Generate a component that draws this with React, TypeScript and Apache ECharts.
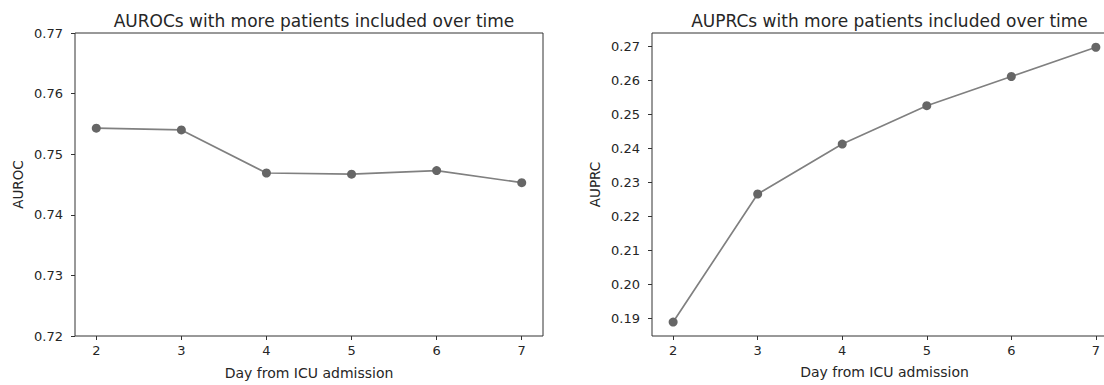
import React, { useEffect, useRef } from "react";
import * as echarts from "echarts";

const days = [2, 3, 4, 5, 6, 7];
const aurocValues = [0.7543, 0.754, 0.7469, 0.7467, 0.7473, 0.7453];
const auprcValues = [0.1889, 0.2266, 0.2413, 0.2526, 0.2612, 0.2698];
const aurocTicks = [0.72, 0.73, 0.74, 0.75, 0.76, 0.77];
const auprcTicks = [0.19, 0.2, 0.21, 0.22, 0.23, 0.24, 0.25, 0.26, 0.27];
const titles = [
  "AUROCs with more patients included over time",
  "AUPRCs with more patients included over time",
];
const xName = "Day from ICU admission";
const yNames = ["AUROC", "AUPRC"];

const FONT = "DejaVu Sans";
const TXT = "#262626";
const FS = 13;

export default function App() {
  const ref = useRef<HTMLDivElement>(null);
  useEffect(() => {
    if (!ref.current) return;
    const chart = echarts.init(ref.current, null, { renderer: "svg" });
    const grids = [
      { left: 75, top: 33, width: 468, height: 306 },
      { left: 652, top: 33, width: 465, height: 303 },
    ];
    const xAxisBase = (gi: number) => ({
      type: "value" as const,
      gridIndex: gi,
      min: 1.75,
      max: 7.25,
      name: xName,
      nameLocation: "middle" as const,
      nameGap: gi === 0 ? 30 : 29,
      nameTextStyle: { fontFamily: FONT, fontSize: 14, color: TXT },
      axisLine: { show: false },
      axisTick: { show: true, length: 4, customValues: days, lineStyle: { color: "#333" } },
      axisLabel: {
        customValues: days,
        margin: 8,
        fontFamily: FONT,
        fontSize: FS,
        color: TXT,
        formatter: (v: number) => String(v),
      },
      splitLine: { show: false },
    });
    const yAxisBase = (gi: number, min: number, max: number, ticks: number[]) => ({
      type: "value" as const,
      gridIndex: gi,
      min,
      max,
      name: yNames[gi],
      nameLocation: "middle" as const,
      nameGap: 50,
      nameTextStyle: { fontFamily: FONT, fontSize: 13.5, color: TXT },
      axisLine: { show: false },
      axisTick: { show: true, length: 4, customValues: ticks, lineStyle: { color: "#333" } },
      axisLabel: {
        customValues: ticks,
        margin: 12,
        fontFamily: FONT,
        fontSize: FS,
        color: TXT,
        formatter: (v: number) => v.toFixed(2),
      },
      splitLine: { show: false },
    });
    const option = {
      animation: false,
      backgroundColor: "#fff",
      title: titles.map((t, i) => ({
        text: t,
        left: grids[i].left + grids[i].width / 2,
        top: 7,
        textAlign: "center",
        textStyle: { fontFamily: FONT, fontSize: 17, fontWeight: "normal", color: TXT },
      })),
      grid: grids.map((g) => ({
        ...g,
        show: true,
        borderColor: "#333",
        borderWidth: 1,
        backgroundColor: "transparent",
      })),
      xAxis: [xAxisBase(0), xAxisBase(1)],
      yAxis: [
        yAxisBase(0, 0.72, 0.77, aurocTicks),
        yAxisBase(1, 0.1848, 0.274, auprcTicks),
      ],
      series: [
        {
          type: "line",
          xAxisIndex: 0,
          yAxisIndex: 0,
          data: days.map((d, i) => [d, aurocValues[i]]),
          symbol: "circle",
          symbolSize: 9,
          itemStyle: { color: "#666666" },
          lineStyle: { color: "#808080", width: 1.7 },
        },
        {
          type: "line",
          xAxisIndex: 1,
          yAxisIndex: 1,
          data: days.map((d, i) => [d, auprcValues[i]]),
          symbol: "circle",
          symbolSize: 9,
          itemStyle: { color: "#666666" },
          lineStyle: { color: "#808080", width: 1.7 },
        },
      ],
    };
    chart.setOption(option as any);
    return () => chart.dispose();
  }, []);
  return (
    <div
      style={{
        position: "fixed",
        left: 0,
        top: 0,
        width: 1104,
        height: 385,
        overflow: "hidden",
        background: "#fff",
      }}
    >
      <div ref={ref} style={{ width: 1140, height: 385 }} />
    </div>
  );
}
